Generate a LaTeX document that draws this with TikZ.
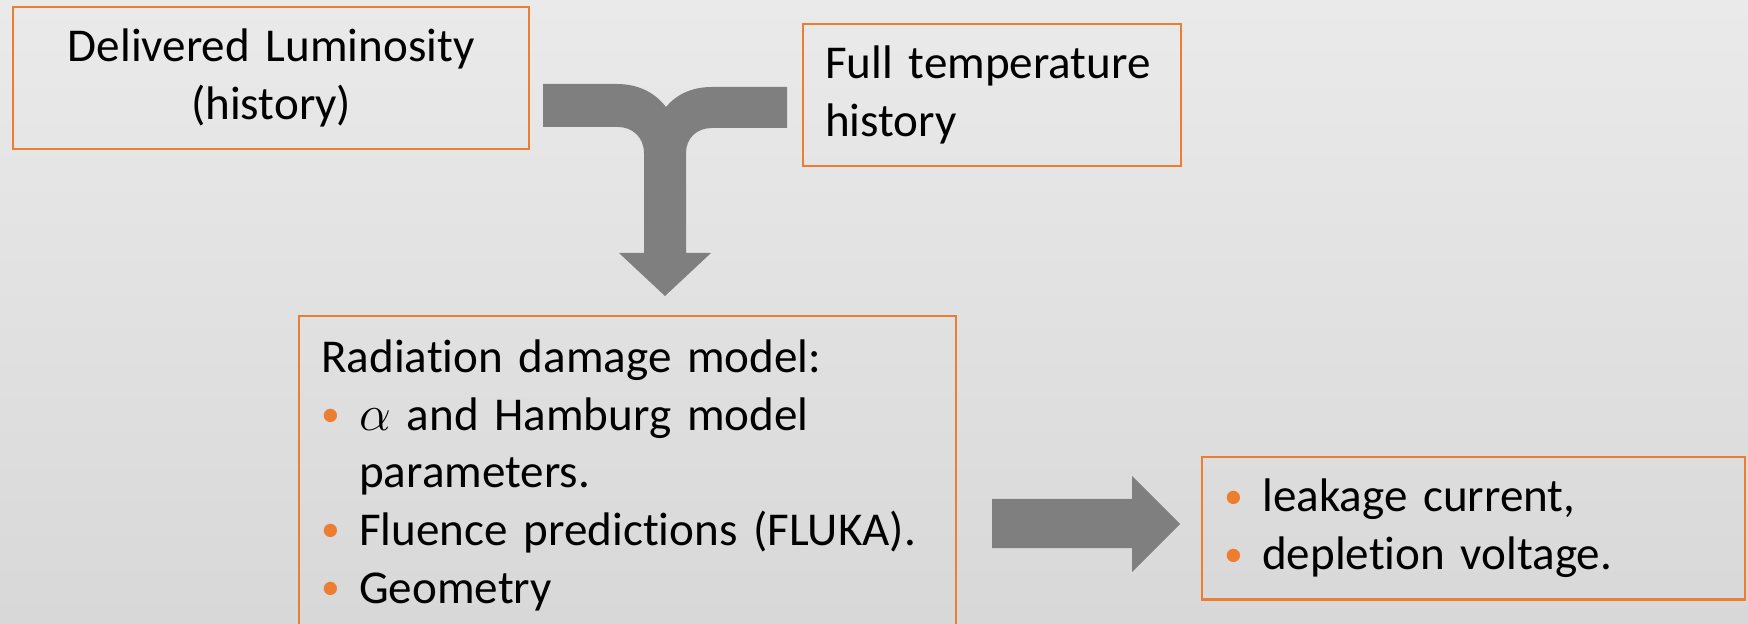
\documentclass[tikz,border=0pt]{standalone}
\usepackage{fontspec}
\setmainfont{Carlito}[Ligatures=NoCommon]
\usepackage{tikz}

\definecolor{boxorange}{RGB}{237,125,49}
\definecolor{arrowgray}{RGB}{127,127,127}
\definecolor{bgtop}{RGB}{234,234,234}
\definecolor{bgbottom}{RGB}{216,216,216}
\newcommand{\obullet}{\makebox[3.8mm][l]{\raisebox{0.35mm}{\scalebox{0.8}{\textcolor{boxorange}{\textbullet}}}}}

\begin{document}
\begin{tikzpicture}[
		font=\fontsize{13.4}{16.4}\selectfont,
		box/.style={draw=boxorange, line width=0.7pt, inner sep=2.2mm, anchor=north west},
	]
		% Background
		\useasboundingbox (0,0) rectangle (17.48,6.23);
		\clip (0,0) rectangle (17.48,6.23);
		\shade[top color=bgtop, bottom color=bgbottom] (0,0) rectangle (17.48,6.23);
		
		% --- Inputs ---
		\node[box, minimum width=5.16cm, minimum height=1.36cm, text width=4.72cm, align=center] (lumi) at (0.12,6.17) {Delivered Luminosity\\(history)};
		\node[box, minimum width=3.78cm, minimum height=1.35cm, text width=3.34cm, align=left] (temp) at (8.02,6.00) {Full temperature\\history};
		
		% Merging arrow into the model
		\fill[arrowgray] (5.43,5.39) -- (6.17,5.39) .. controls (6.40,5.39) and (6.56,5.29) .. (6.66,5.16)
			.. controls (6.76,5.28) and (6.91,5.36) .. (7.12,5.36) -- (7.87,5.36) -- (7.87,4.95) -- (7.12,4.95)
			.. controls (6.97,4.95) and (6.86,4.85) .. (6.86,4.70) -- (6.86,3.70) -- (7.11,3.70) -- (6.65,3.27)
			-- (6.19,3.70) -- (6.44,3.70) -- (6.44,4.70) .. controls (6.44,4.86) and (6.32,4.96) .. (6.18,4.96)
			-- (5.43,4.96) -- cycle;
		
		% --- Model ---
		\node[box, minimum width=6.57cm, minimum height=3.18cm, text width=6.13cm, align=left] (model) at (2.98,3.08) {Radiation damage model:\\
			\obullet$\alpha$ and Hamburg model\\
			\hspace*{3.8mm}parameters.\\
			\obullet Fluence predictions (FLUKA).\\
			\obullet Geometry};
		
		% Arrow to the outputs
		\fill[arrowgray] (9.92,1.24) -- (11.32,1.24) -- (11.32,1.47) -- (11.80,0.99) -- (11.32,0.51) -- (11.32,0.75) -- (9.92,0.75) -- cycle;
		
		% --- Outputs ---
		\node[box, minimum width=5.43cm, minimum height=1.36cm, text width=4.99cm, align=left] (result) at (12.01,1.67) {\obullet leakage current,\\
			\obullet depletion voltage.};
		
	\end{tikzpicture}
\end{document}
